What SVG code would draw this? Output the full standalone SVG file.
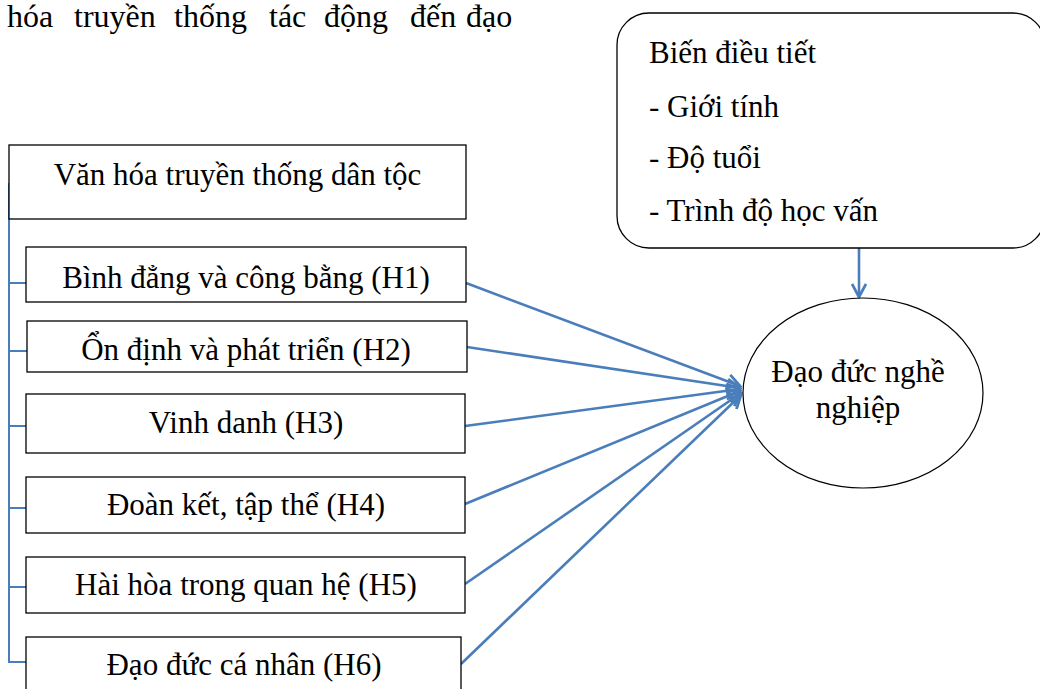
<svg xmlns="http://www.w3.org/2000/svg" width="1040" height="689" viewBox="0 0 1040 689">
<style>
text{font-family:"Liberation Serif","Times New Roman",serif;font-size:31px;fill:#000}
.c{text-anchor:middle}
.box{fill:#fff;stroke:#000;stroke-width:1.3}
.tree{fill:none;stroke:#4a7ebb;stroke-width:2}
.arr{fill:none;stroke:#4a7ebb;stroke-width:2.6;marker-end:url(#ah)}
</style>
<defs>
<marker id="ah" viewBox="0 0 16 16" refX="14" refY="8" markerWidth="16" markerHeight="16" markerUnits="userSpaceOnUse" orient="auto">
<path d="M1,1 L14,8 L1,15" fill="none" stroke="#4a7ebb" stroke-width="2.8"/>
</marker>
<clipPath id="h2clip"><rect x="27" y="321" width="440" height="51"/></clipPath>
</defs>
<rect width="1040" height="689" fill="#fff"/>
<text id="heading" style="font-size:32px"><tspan x="7" y="27">hóa</tspan><tspan x="74" y="27">truyền</tspan><tspan x="174" y="27">thống</tspan><tspan x="269" y="27">tác</tspan><tspan x="324" y="27">động</tspan><tspan x="410" y="27">đến</tspan><tspan x="466" y="27">đạo</tspan></text>
<g id="connectors">
<path class="tree" d="M9,183 V662 H26 M9,283 H26 M9,351 H27 M9,426 H26 M9,508 H26 M9,587 H26"/>
<line class="arr" x1="466" y1="283" x2="740" y2="386"/>
<line class="arr" x1="467" y1="347" x2="740" y2="388"/>
<line class="arr" x1="465" y1="426" x2="740" y2="389"/>
<line class="arr" x1="465" y1="504" x2="740" y2="391"/>
<line class="arr" x1="465" y1="584" x2="741" y2="393"/>
<line class="arr" x1="461" y1="664" x2="741" y2="395"/>
<line class="arr" x1="859" y1="248" x2="859" y2="297"/>
</g>
<g id="root">
<rect class="box" x="9" y="145" width="457" height="74"/>
<text class="c" x="237.5" y="185">Văn hóa truyền thống dân tộc</text>
</g>
<g id="h1">
<rect class="box" x="26" y="247" width="440" height="55"/>
<text class="c" x="246" y="288">Bình đẳng và công bằng (H1)</text>
</g>
<g id="h2">
<rect class="box" x="27" y="321" width="440" height="51"/>
<text class="c" x="246" y="360" clip-path="url(#h2clip)">Ổn định và phát triển (H2)</text>
</g>
<g id="h3">
<rect class="box" x="26" y="394" width="439" height="59"/>
<text class="c" x="246" y="433">Vinh danh (H3)</text>
</g>
<g id="h4">
<rect class="box" x="26" y="477" width="439" height="56"/>
<text class="c" x="246" y="515">Đoàn kết, tập thể (H4)</text>
</g>
<g id="h5">
<rect class="box" x="26" y="557" width="439" height="56"/>
<text class="c" x="246" y="595">Hài hòa trong quan hệ (H5)</text>
</g>
<g id="h6">
<rect class="box" x="26" y="637" width="435" height="70"/>
<text class="c" x="244" y="675">Đạo đức cá nhân (H6)</text>
</g>
<g id="moderator">
<rect class="box" x="617" y="13" width="428" height="235" rx="32" ry="32"/>
<text x="649" y="63">Biến điều tiết</text>
<text x="649" y="117">- Giới tính</text>
<text x="649" y="168">- Độ tuổi</text>
<text x="649" y="221">- Trình độ học vấn</text>
</g>
<g id="outcome">
<ellipse cx="863" cy="393" rx="120" ry="95" fill="#fff" stroke="#000" stroke-width="1.2"/>
<text class="c" x="858" y="382">Đạo đức nghề</text>
<text class="c" x="858" y="418">nghiệp</text>
</g>
</svg>
